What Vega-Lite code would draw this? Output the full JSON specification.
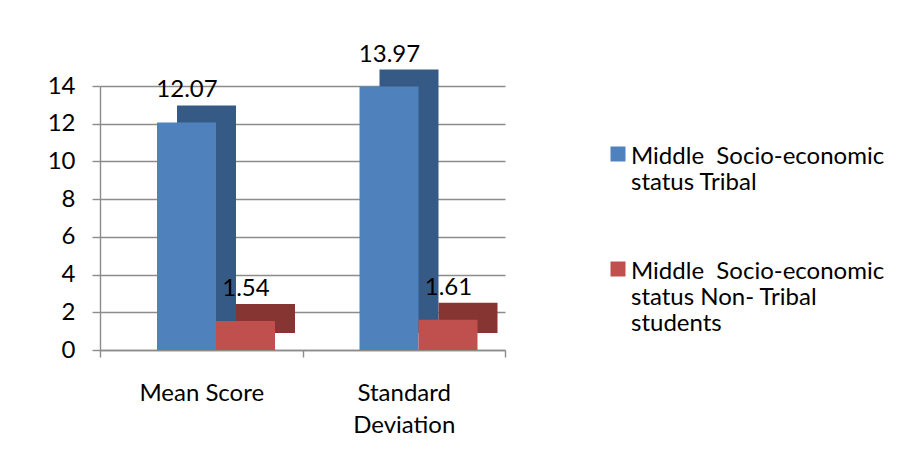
{
  "$schema": "https://vega.github.io/schema/vega-lite/v6.json",
  "width": 405,
  "height": 264,
  "autosize": {"type": "none"},
  "padding": {"left": 100, "top": 86, "right": 401, "bottom": 118},
  "background": "white",
  "config": {
    "font": "Lato",
    "view": {"stroke": null},
    "axis": {"labelColor": "black", "labelFont": "Lato", "labelFontSize": 24, "domainColor": "#8C8C8C", "tickColor": "#8C8C8C", "gridColor": "#8C8C8C", "domainWidth": 1.4, "tickWidth": 1.4, "gridWidth": 1.4},
    "legend": {"labelFont": "Lato", "labelFontSize": 24, "labelColor": "black"}
  },
  "data": {
    "values": [
      {"category": "Mean Score", "group": "Middle  Socio-economic status Tribal", "value": 12.07},
      {"category": "Mean Score", "group": "Middle  Socio-economic status Non- Tribal students", "value": 1.54},
      {"category": "Standard Deviation", "group": "Middle  Socio-economic status Tribal", "value": 13.97},
      {"category": "Standard Deviation", "group": "Middle  Socio-economic status Non- Tribal students", "value": 1.61}
    ]
  },
  "encoding": {
    "x": {
      "field": "category", "type": "nominal", "sort": ["Mean Score", "Standard Deviation"],
      "scale": {"paddingInner": 0, "paddingOuter": 0},
      "axis": {"title": null, "labelAngle": 0, "tickBand": "extent", "tickSize": 7, "labelPadding": 24, "labelLineHeight": 32, "labelBaseline": "top",
        "labelExpr": "datum.value == 'Standard Deviation' ? ['Standard', 'Deviation'] : datum.value"}
    },
    "y": {
      "field": "value", "type": "quantitative",
      "scale": {"domain": [0, 14], "nice": false},
      "axis": {"title": null, "values": [0, 2, 4, 6, 8, 10, 12, 14], "grid": true, "tickSize": 8, "labelPadding": 17}
    }
  },
  "layer": [
    {
      "mark": {"type": "bar", "yOffset": -17, "y2Offset": -17},
      "encoding": {
        "xOffset": {
          "field": "group", "type": "nominal",
          "sort": ["Middle  Socio-economic status Tribal", "Middle  Socio-economic status Non- Tribal students"],
          "scale": {"range": [77, 195], "paddingInner": 0, "paddingOuter": 0}
        },
        "color": {
          "condition": {"test": "datum.group == 'Middle  Socio-economic status Tribal'", "value": "#365A86"},
          "value": "#863533"
        }
      }
    },
    {
      "mark": {"type": "bar"},
      "encoding": {
        "xOffset": {
          "field": "group", "type": "nominal",
          "sort": ["Middle  Socio-economic status Tribal", "Middle  Socio-economic status Non- Tribal students"],
          "scale": {"range": [57, 175], "paddingInner": 0, "paddingOuter": 0}
        },
        "color": {
          "field": "group", "type": "nominal",
          "sort": ["Middle  Socio-economic status Tribal", "Middle  Socio-economic status Non- Tribal students"],
          "scale": {"range": ["#4F81BD", "#C0504D"]},
          "legend": {
            "title": null, "orient": "none", "legendX": 506, "legendY": 47,
            "symbolType": "M-1,0.2H1V2.2H-1Z", "symbolSize": 225, "symbolStrokeWidth": 0,
            "labelLineHeight": 33, "rowPadding": 53, "labelOffset": 1, "labelLimit": 400, "labelBaseline": "top",
            "labelExpr": "datum.value == 'Middle  Socio-economic status Tribal' ? ['Middle\u00a0 Socio-economic', 'status Tribal'] : ['Middle\u00a0 Socio-economic', 'status Non- Tribal', 'students']"
          }
        }
      }
    },
    {
      "mark": {"type": "text", "baseline": "bottom", "dy": -20, "fontSize": 24, "font": "Lato", "color": "black"},
      "encoding": {
        "xOffset": {
          "field": "group", "type": "nominal",
          "sort": ["Middle  Socio-economic status Tribal", "Middle  Socio-economic status Non- Tribal students"],
          "scale": {"range": [87, 146], "padding": 0}
        },
        "text": {"field": "value", "type": "quantitative", "format": ".2f"}
      }
    }
  ],
  "resolve": {"scale": {"xOffset": "independent"}}
}
